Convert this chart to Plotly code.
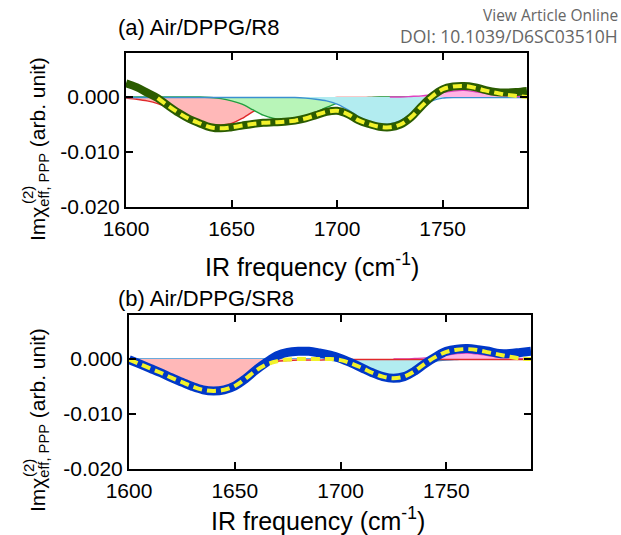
import plotly.graph_objects as go

# ---------------- data ----------------
freq = [1600, 1605, 1610, 1615, 1620, 1625, 1630, 1635, 1640, 1645,
        1650, 1655, 1660, 1665, 1670, 1675, 1680, 1685, 1690, 1695,
        1700, 1705, 1710, 1715, 1720, 1725, 1730, 1735, 1740, 1745,
        1750, 1755, 1760, 1765, 1770, 1775, 1780, 1785, 1790]

# panel (a) Air/DPPG/R8
a_fit = [0.0025, 0.0018, 0.0008, -0.0002, -0.0016, -0.0029, -0.0040, -0.0048, -0.0055, -0.0057,
         -0.0055, -0.0052, -0.0049, -0.0047, -0.0046, -0.0045, -0.0043, -0.0039, -0.0033, -0.0027,
         -0.0025, -0.0031, -0.0042, -0.0049, -0.0054, -0.0055, -0.0050, -0.0037, -0.0017, 0.0001,
         0.0014, 0.0019, 0.0020, 0.0018, 0.0013, 0.0009, 0.0008, 0.0009, 0.0011]
a_data_freq = freq[3:]
a_data = [-0.0002, -0.0016, -0.0029, -0.0040, -0.0048, -0.0055, -0.0057,
          -0.0055, -0.0052, -0.0049, -0.0047, -0.0046, -0.0045, -0.0043, -0.0039, -0.0033, -0.0027,
          -0.0025, -0.0031, -0.0042, -0.0049, -0.0054, -0.0055, -0.0050, -0.0037, -0.0017, 0.0001,
          0.0014, 0.0019, 0.0020, 0.0017, 0.0012, 0.0008, 0.0004, 0.0002, 0.0000]
a_red = [-0.0002, -0.0004, -0.0007, -0.0012, -0.0020, -0.0030, -0.0040, -0.0047, -0.0051, -0.0051,
         -0.0048, -0.0039, -0.0027, -0.0017, -0.0010, -0.0006, -0.0004, -0.0003, -0.0002, -0.0002,
         -0.0001, -0.0001, -0.0001, -0.0001, -0.0001, -0.0001, -0.0001, -0.0001, -0.0001, 0.0000,
         0.0000, 0.0000, 0.0000, 0.0000, 0.0000, 0.0000, 0.0000, 0.0000, 0.0000]
a_cyan = [-0.0001, -0.0001, -0.0001, -0.0001, -0.0001, -0.0001, -0.0001, -0.0001, -0.0001, -0.0001,
          -0.0001, -0.0001, -0.0001, -0.0001, -0.0001, -0.0001, -0.0001, -0.0002, -0.0004, -0.0007,
          -0.0013, -0.0023, -0.0035, -0.0044, -0.0049, -0.0049, -0.0043, -0.0031, -0.0017, -0.0007,
          -0.0002, -0.0001, -0.0001, -0.0001, -0.0001, -0.0001, -0.0001, -0.0001, -0.0001]
a_green = [0.0000, 0.0000, 0.0000, 0.0000, 0.0000, 0.0000, 0.0000, 0.0000, -0.0001, -0.0003,
           -0.0007, -0.0013, -0.0023, -0.0033, -0.0039, -0.0042, -0.0041, -0.0036, -0.0028, -0.0019,
           -0.0011, -0.0005, -0.0002, -0.0001, 0.0000, 0.0000, 0.0000, 0.0000, 0.0000, 0.0000,
           0.0000, 0.0000, 0.0000, 0.0000, 0.0000, 0.0000, 0.0000, 0.0000, 0.0000]
mag_freq = freq[25:]
a_mag = [0.0000, 0.0000, 0.0001, 0.0002, 0.0004, 0.0008, 0.0011, 0.0012, 0.0010, 0.0007, 0.0004,
         0.0002, 0.0001, 0.0001]

# panel (b) Air/DPPG/SR8
b_fit = [-0.0001, -0.0009, -0.0017, -0.0025, -0.0034, -0.0042, -0.0050, -0.0056, -0.0058, -0.0056,
         -0.0049, -0.0036, -0.0020, -0.0006, 0.0006, 0.0012, 0.0014, 0.0014, 0.0011, 0.0007,
         0.0001, -0.0007, -0.0016, -0.0025, -0.0032, -0.0035, -0.0032, -0.0022, -0.0008, 0.0004,
         0.0014, 0.0018, 0.0019, 0.0017, 0.0014, 0.0010, 0.0010, 0.0012, 0.0014]
b_data = [-0.0001, -0.0009, -0.0017, -0.0025, -0.0034, -0.0042, -0.0050, -0.0056, -0.0058, -0.0056,
          -0.0049, -0.0036, -0.0021, -0.0010, -0.0004, -0.0001, 0.0000, 0.0000, 0.0000, 0.0000,
          -0.0002, -0.0008, -0.0016, -0.0025, -0.0032, -0.0035, -0.0032, -0.0022, -0.0008, 0.0004,
          0.0013, 0.0017, 0.0018, 0.0016, 0.0012, 0.0008, 0.0004, 0.0001, 0.0000]
b_red = [-0.0002, -0.0008, -0.0016, -0.0025, -0.0034, -0.0043, -0.0050, -0.0055, -0.0056, -0.0053,
         -0.0044, -0.0031, -0.0017, -0.0008, -0.0004, -0.0003, -0.0002, -0.0002, -0.0002, -0.0001,
         -0.0001, -0.0001, -0.0001, -0.0001, -0.0001, -0.0001, -0.0001, -0.0001, -0.0001, -0.0001,
         -0.0001, -0.0001, -0.0001, -0.0001, -0.0001, -0.0001, -0.0001, -0.0001, -0.0001]
b_cyan = [0.0000] * 19 + [-0.0002, -0.0005, -0.0010, -0.0017, -0.0024, -0.0029, -0.0030, -0.0026,
                          -0.0018, -0.0009, -0.0004, -0.0002, -0.0001, 0.0000, 0.0000, 0.0000,
                          0.0000, 0.0000, 0.0000, 0.0000]
b_mag = [0.0000, 0.0000, 0.0001, 0.0002, 0.0004, 0.0007, 0.0010, 0.0011, 0.0009, 0.0006, 0.0003,
         0.0002, 0.0001, 0.0000]

x_ticks = [1600, 1650, 1700, 1750]
y_ticks = [0.0, -0.010, -0.020]
y_tick_text = ["0.000", "-0.010", "-0.020"]

# ---------------- styles ----------------
RED_L, RED_F = "#e0282a", "#ffb8b8"
GRN_L, GRN_F = "#22a040", "#b8f5b8"
CYN_L, CYN_F = "#3a8fd0", "#b2ecf0"
MAG_L, MAG_F = "#e040c0", "#ffb4e4"
FIT_A = "#2b5c00"
FIT_B = "#0038c8"
YEL = "#f2f22a"

W, H = 621, 535
FONT = "Liberation Sans, Arial, sans-serif"

fig = go.Figure()


def comp(xs, y, lc, fc, xa, ya):
    fig.add_trace(go.Scatter(x=xs, y=y, mode="lines", fill="tozeroy",
                             fillcolor=fc,
                             line=dict(color=lc, width=1.4, shape="spline", smoothing=0.6),
                             xaxis=xa, yaxis=ya, showlegend=False, hoverinfo="skip"))


# panel a
comp(freq, a_red, RED_L, RED_F, "x", "y")
comp(freq, a_green, GRN_L, GRN_F, "x", "y")
comp(freq, a_cyan, CYN_L, CYN_F, "x", "y")
comp(mag_freq, a_mag, MAG_L, MAG_F, "x", "y")
fig.add_trace(go.Scatter(x=freq, y=a_fit, mode="lines",
                         line=dict(color=FIT_A, width=8, shape="spline"),
                         xaxis="x", yaxis="y", showlegend=False))
fig.add_trace(go.Scatter(x=a_data_freq, y=a_data, mode="lines",
                         line=dict(color=YEL, width=4, dash="9px,5px", shape="spline"),
                         xaxis="x", yaxis="y", showlegend=False))

# panel b
comp(freq, b_cyan, CYN_L, CYN_F, "x2", "y2")
comp(mag_freq, b_mag, MAG_L, MAG_F, "x2", "y2")
comp(freq, b_red, RED_L, RED_F, "x2", "y2")
fig.add_trace(go.Scatter(x=freq, y=b_fit, mode="lines",
                         line=dict(color=FIT_B, width=9, shape="spline"),
                         xaxis="x2", yaxis="y2", showlegend=False))
fig.add_trace(go.Scatter(x=freq, y=b_data, mode="lines",
                         line=dict(color=YEL, width=4, dash="9px,5px", shape="spline"),
                         xaxis="x2", yaxis="y2", showlegend=False))


def px_x(p):
    return p / W


def px_y(p):
    return 1 - p / H


axis_common = dict(showline=True, linecolor="black", linewidth=2, mirror="ticks",
                   ticks="inside", ticklen=7, tickwidth=2, tickcolor="black",
                   showgrid=False, zeroline=False, automargin=False,
                   tickfont=dict(family=FONT, size=21, color="black"))

fig.update_layout(
    width=W, height=H, margin=dict(l=0, r=0, t=0, b=0, pad=0, autoexpand=False),
    paper_bgcolor="white", plot_bgcolor="white",
    xaxis=dict(domain=[px_x(126), px_x(527)], anchor="y", range=[1600, 1790],
               tickvals=x_ticks, ticklabelstandoff=2, **axis_common),
    yaxis=dict(domain=[px_y(207), px_y(53)], anchor="x", range=[-0.020, 0.008],
               tickvals=y_ticks, ticktext=y_tick_text, **axis_common),
    xaxis2=dict(domain=[px_x(129), px_x(531)], anchor="y2", range=[1600, 1790],
                tickvals=x_ticks, ticklabelstandoff=2, **axis_common),
    yaxis2=dict(domain=[px_y(469), px_y(315)], anchor="x2", range=[-0.020, 0.008],
                tickvals=y_ticks, ticktext=y_tick_text, **axis_common),
)

ann = []


def text(x, y, s, size, xanchor="center", angle=0, color="black", family=FONT):
    ann.append(dict(x=px_x(x), y=px_y(y), xref="paper", yref="paper", text=s,
                    showarrow=False, xanchor=xanchor, yanchor="middle", textangle=angle,
                    font=dict(family=family, size=size, color=color)))


text(116, 27, "(a) Air/DPPG/R8", 22, xanchor="left")
text(116, 298, "(b) Air/DPPG/SR8", 22, xanchor="left")
text(312, 265, "IR frequency (cm<sup>-1</sup>)", 25)
text(318, 519, "IR frequency (cm<sup>-1</sup>)", 25)
for yc, y2 in ((149, 195), (420, 468)):
    text(39, yc, "Imχ<sub>eff, PPP</sub> (arb. unit)", 21, angle=-90)
    text(28, y2, "(2)", 15, angle=-90)
text(620, 15, "View Article Online", 15.5, xanchor="right", color="#666666", family="Open Sans")
text(620, 36, "DOI: 10.1039/D6SC03510H", 17.5, xanchor="right", color="#666666", family="Open Sans")
fig.update_layout(annotations=ann)

fig.write_html("out.html")
